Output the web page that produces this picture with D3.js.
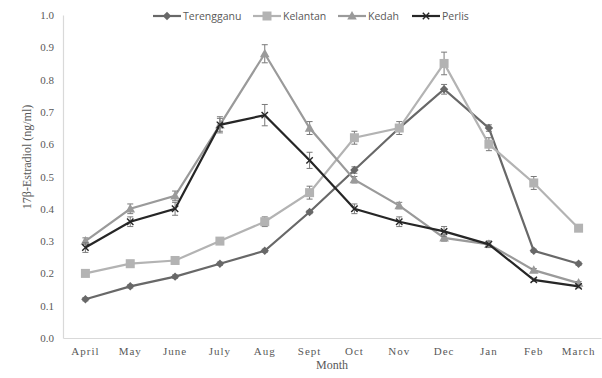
<!DOCTYPE html>
<html>
<head>
<meta charset="utf-8">
<script src="https://cdn.jsdelivr.net/npm/d3@7"></script>
<style>
  html, body { margin: 0; padding: 0; background: #fff; }
  svg { display: block; }
</style>
</head>
<body>
<svg id="chart" width="602" height="378"></svg>
<script>
// Monthly 17β-estradiol concentration (mean ± error) by state
const months = ["April", "May", "June", "July", "Aug", "Sept", "Oct", "Nov", "Dec", "Jan", "Feb", "March"];
const yTicks = [0.0, 0.1, 0.2, 0.3, 0.4, 0.5, 0.6, 0.7, 0.8, 0.9, 1.0];

const terengganu    = [0.12, 0.16, 0.19, 0.23, 0.27, 0.39, 0.52, 0.65, 0.77, 0.65, 0.27, 0.23];
const terengganuErr = [0.005, 0.005, 0.005, 0.005, 0.005, 0.005, 0.01, 0.01, 0.015, 0.01, 0.005, 0.005];
const kelantan      = [0.20, 0.23, 0.24, 0.30, 0.36, 0.45, 0.62, 0.65, 0.85, 0.60, 0.48, 0.34];
const kelantanErr   = [0.01, 0.01, 0.01, 0.01, 0.015, 0.02, 0.02, 0.02, 0.035, 0.02, 0.02, 0.01];
const kedah         = [0.30, 0.40, 0.44, 0.66, 0.88, 0.65, 0.49, 0.41, 0.31, 0.29, 0.21, 0.17];
const kedahErr      = [0.01, 0.015, 0.015, 0.02, 0.028, 0.02, 0.01, 0.01, 0.01, 0.01, 0.005, 0.005];
const perlis        = [0.28, 0.36, 0.40, 0.66, 0.69, 0.55, 0.40, 0.36, 0.33, 0.29, 0.18, 0.16];
const perlisErr     = [0.015, 0.015, 0.02, 0.025, 0.033, 0.025, 0.015, 0.015, 0.015, 0.01, 0.005, 0.005];

const seriesNames = ["Terengganu", "Kelantan", "Kedah", "Perlis"];

const series = [
  { name: seriesNames[0], values: terengganu, err: terengganuErr, color: "#686868", marker: "diamond" },
  { name: seriesNames[1], values: kelantan,   err: kelantanErr,   color: "#b3b3b3", marker: "square" },
  { name: seriesNames[2], values: kedah,      err: kedahErr,      color: "#9a9a9a", marker: "triangle" },
  { name: seriesNames[3], values: perlis,     err: perlisErr,     color: "#262626", marker: "cross" }
];

const svg = d3.select("#chart");
const margin = { left: 63, right: 1, top: 15, bottom: 40 };
const W = 602, H = 378;

const x = d3.scaleBand().domain(months).range([margin.left, W - margin.right]);
const y = d3.scaleLinear().domain([0, 1]).range([H - margin.bottom, margin.top]);
const cx = m => x(m) + x.bandwidth() / 2;

const axisColor = "#d9d9d9";
const textColor = "#595959";

// Y axis
const yAxis = svg.append("g")
  .attr("transform", `translate(${margin.left},0)`)
  .call(d3.axisLeft(y).tickValues(yTicks).tickFormat(d3.format(".1f")).tickSize(0).tickPadding(9));
yAxis.select(".domain").attr("stroke", axisColor).attr("stroke-width", 1.2);
yAxis.selectAll("text")
  .attr("fill", textColor)
  .style("font-family", "'Liberation Serif', 'Times New Roman', serif")
  .style("font-size", "11px");

// X axis
const xAxis = svg.append("g")
  .attr("transform", `translate(0,${H - margin.bottom})`)
  .call(d3.axisBottom(x).tickSize(0).tickPadding(9));
xAxis.select(".domain").attr("stroke", axisColor).attr("stroke-width", 1.2);
xAxis.selectAll("text")
  .attr("fill", textColor)
  .style("font-family", "'Liberation Serif', 'Times New Roman', serif")
  .style("font-size", "11px")
  .style("letter-spacing", "1px");

// Axis titles
svg.append("text")
  .attr("transform", `translate(31,157) rotate(-90)`)
  .attr("text-anchor", "middle")
  .attr("fill", textColor)
  .style("font-family", "'Liberation Serif', 'Times New Roman', serif")
  .style("font-size", "12px")
  .text("17β-Estradiol (ng/ml)");

svg.append("text")
  .attr("x", (margin.left + W - margin.right) / 2)
  .attr("y", 369)
  .attr("text-anchor", "middle")
  .attr("fill", textColor)
  .style("font-family", "'Liberation Serif', 'Times New Roman', serif")
  .style("font-size", "12px")
  .text("Month");

// Marker drawing
function drawMarker(g, type, color, px, py) {
  if (type === "diamond") {
    g.append("path")
      .attr("d", `M${px},${py - 4.2}L${px + 4.2},${py}L${px},${py + 4.2}L${px - 4.2},${py}Z`)
      .attr("fill", color);
  } else if (type === "square") {
    g.append("rect")
      .attr("x", px - 4.5).attr("y", py - 4.5)
      .attr("width", 9).attr("height", 9)
      .attr("fill", color);
  } else if (type === "triangle") {
    g.append("path")
      .attr("d", `M${px},${py - 5}L${px + 4.8},${py + 3.6}L${px - 4.8},${py + 3.6}Z`)
      .attr("fill", color);
  } else if (type === "cross") {
    g.append("path")
      .attr("d", `M${px - 3.2},${py - 3.2}L${px + 3.2},${py + 3.2}M${px - 3.2},${py + 3.2}L${px + 3.2},${py - 3.2}`)
      .attr("stroke", color).attr("stroke-width", 1.4).attr("fill", "none");
  }
}

const line = d3.line().x((d, i) => cx(months[i])).y(d => y(d));

series.forEach(s => {
  const g = svg.append("g");
  g.append("path")
    .datum(s.values)
    .attr("d", line)
    .attr("fill", "none")
    .attr("stroke", s.color)
    .attr("stroke-width", 2.2);

  // error bars
  s.values.forEach((v, i) => {
    const px = cx(months[i]);
    const e = s.err[i];
    const eg = g.append("g").attr("stroke", "#7a7a7a").attr("stroke-width", 1);
    eg.append("line").attr("x1", px).attr("x2", px).attr("y1", y(v + e)).attr("y2", y(v - e));
    eg.append("line").attr("x1", px - 3).attr("x2", px + 3).attr("y1", y(v + e)).attr("y2", y(v + e));
    eg.append("line").attr("x1", px - 3).attr("x2", px + 3).attr("y1", y(v - e)).attr("y2", y(v - e));
  });

  s.values.forEach((v, i) => drawMarker(g, s.marker, s.color, cx(months[i]), y(v)));
});

// Legend
const legendX = [153, 253, 338, 412];
const legend = svg.append("g");
series.forEach((s, i) => {
  const lx = legendX[i], ly = 16;
  legend.append("line")
    .attr("x1", lx).attr("x2", lx + 28)
    .attr("y1", ly).attr("y2", ly)
    .attr("stroke", s.color).attr("stroke-width", 2.2);
  drawMarker(legend, s.marker, s.color, lx + 14, ly);
  legend.append("text")
    .attr("x", lx + 30).attr("y", ly + 4)
    .attr("fill", textColor)
    .style("font-family", "'Open Sans', 'Liberation Sans', sans-serif")
    .style("font-size", "10.5px")
    .text(s.name);
});
</script>
</body>
</html>
